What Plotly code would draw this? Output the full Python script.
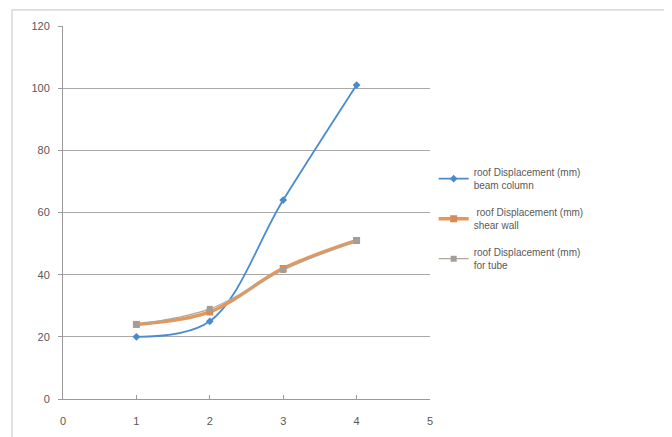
import plotly.graph_objects as go

x_vals = [1, 2, 3, 4]
beam_column = [20, 25, 64, 101]
shear_wall = [24, 28, 42, 51]
for_tube = [24, 29, 41.5, 51]
names = ["roof Displacement (mm)<br>beam column",
         " roof Displacement (mm)<br>shear wall",
         "roof Displacement (mm)<br>for tube"]
y_ticks = [0, 20, 40, 60, 80, 100, 120]
x_ticks = [0, 1, 2, 3, 4, 5]

fig = go.Figure()
fig.add_trace(go.Scatter(x=x_vals, y=beam_column, name=names[0], mode="lines+markers",
                         legendgroup="a",
                         line=dict(color="#4a8bd0", width=1.8, shape="spline", smoothing=1),
                         marker=dict(symbol="diamond", size=6, color="#4a8bd0")))
fig.add_trace(go.Scatter(x=x_vals, y=shear_wall, name=names[1], mode="lines+markers",
                         legendgroup="b",
                         line=dict(color="#e5975a", width=3.5, shape="spline", smoothing=1),
                         marker=dict(symbol="square", size=7, color="#d98a55")))
fig.add_trace(go.Scatter(x=x_vals, y=for_tube, name=names[2], mode="lines+markers",
                         legendgroup="c",
                         line=dict(color="#b0a79f", width=1.2, shape="spline", smoothing=1),
                         marker=dict(symbol="square", size=6, color="#a59e98")))

fig.add_shape(type="rect", xref="paper", yref="paper",
              x0=-0.139, x1=1.7, y0=-0.3, y1=1.043,
              line=dict(color="#d0d0d0", width=1.2), layer="below")

fig.update_layout(
    width=672, height=437,
    margin=dict(l=55, r=250, t=16, b=46),
    paper_bgcolor="white", plot_bgcolor="white",
    font=dict(family="Liberation Sans, Arial, sans-serif", size=10, color="#595959"),
    showlegend=True,
    legend=dict(x=1.01, y=0.643, xanchor="left", yanchor="top",
                font=dict(size=10, color="#595959"), tracegroupgap=11,
                traceorder="grouped",
                bgcolor="rgba(0,0,0,0)"),
)
fig.update_xaxes(range=[0, 5], tickvals=x_ticks, showgrid=False, zeroline=False,
                 showline=True, linecolor="#9a9a9a", linewidth=1,
                 ticks="inside", ticklen=4, tickcolor="#9a9a9a",
                 ticklabelstandoff=12,
                 tickfont=dict(size=11, color="#595959"))
fig.update_yaxes(range=[0, 120], tickvals=y_ticks, showgrid=True, gridcolor="#a8a8a8",
                 gridwidth=1, zeroline=False, showline=True, linecolor="#9a9a9a",
                 ticks="outside", ticklen=4, tickcolor="#9a9a9a",
                 ticklabelstandoff=6,
                 tickfont=dict(size=11, color="#595959"))

fig.write_html("out.html")
